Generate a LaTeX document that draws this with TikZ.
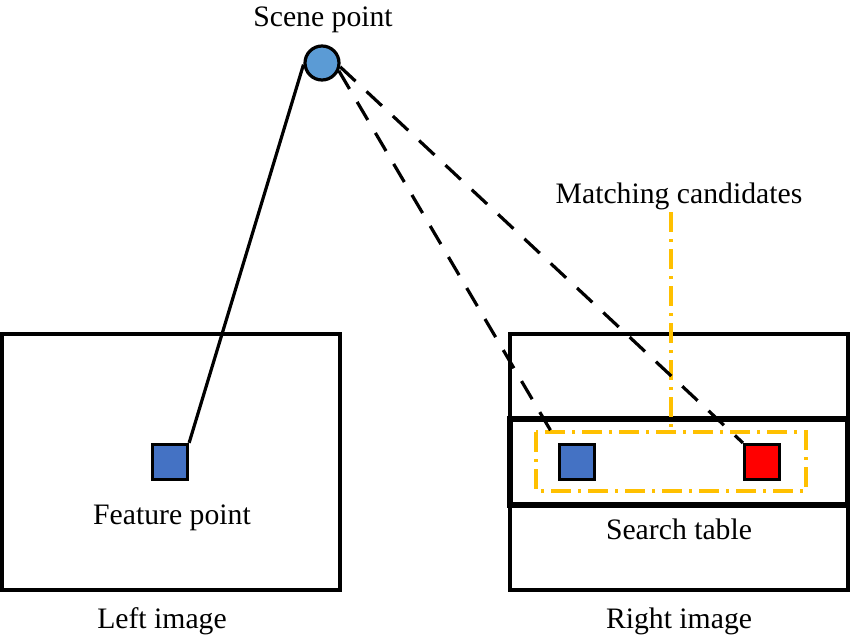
\documentclass[tikz,border=0pt]{standalone}
\usepackage{fontspec}
\setmainfont{Liberation Serif}
\definecolor{cblue}{HTML}{5B9BD5}
\definecolor{sqblue}{HTML}{4472C4}
\definecolor{gold}{HTML}{FFC000}
\begin{document}
\begin{tikzpicture}[x=1pt,y=-1pt,
  lbl/.style={font=\fontsize{29.7}{34}\selectfont, inner sep=0pt, anchor=base},
  frame/.style={draw, line width=3.2pt},
  sq/.style={draw, line width=3.2pt, minimum size=35pt, inner sep=0pt},
  dd/.style={draw=gold, line width=3.2pt, dash pattern=on 20pt off 7pt on 3pt off 7pt},
  ln/.style={line width=3.2pt},
  dln/.style={line width=3.2pt, dash pattern=on 21pt off 15pt}]
\useasboundingbox (0,0) rectangle (850,639);
% image frames
\draw[frame] (2,334) rectangle (340,590);
\draw[frame] (510,334) rectangle (848,590);
\draw[line width=5.5pt] (510,419) rectangle (848,505);
% matching candidates box
\draw[dd] (536,432) rectangle (806,491);
\coordinate (mtop) at (671,212);
\coordinate (mbot) at (671,432);
\draw[dd] (mtop) -- (mbot);
% squares
\node[sq, fill=sqblue] (lb) at (170,462) {};
\node[sq, fill=sqblue] (rb) at (577,462) {};
\node[sq, fill=red] (rs) at (762,462) {};
% scene point
\node[circle, draw, line width=3.2pt, fill=cblue, minimum size=34pt, inner sep=0pt] (sp) at (322,63) {};
\draw[ln] (sp.185) -- (lb.north east);
\draw[dln] (sp.-25) -- (rb.north west);
\draw[dln] (sp.-12) -- (rs.north west);
% labels
\node[lbl] (t1) at (323,27) {Scene point};
\node[lbl] (t2) at (679,203) {Matching candidates};
\node[lbl] (t3) at (172,524) {Feature point};
\node[lbl] (t4) at (679,539) {Search table};
\node[lbl] (t5) at (162,628) {Left image};
\node[lbl] (t6) at (679,628) {Right image};
\end{tikzpicture}
\end{document}
